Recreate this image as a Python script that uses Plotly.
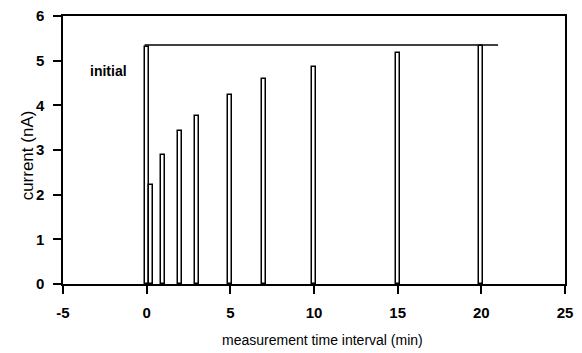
import plotly.graph_objects as go

# data
times = [0, 0.25, 1, 2, 3, 5, 7, 10, 15, 20]
currents = [5.31, 2.21, 2.89, 3.42, 3.77, 4.24, 4.59, 4.86, 5.17, 5.32]
initial_level = 5.35
initial_line_x = [-0.125, 21]
x_ticks = [-5, 0, 5, 10, 15, 20, 25]
x_ticklabels = ["-5", "0", "5", "10", "15", "20", "25"]
y_ticks = [0, 1, 2, 3, 4, 5, 6]
y_ticklabels = ["0", "1", "2", "3", "4", "5", "6"]
x_title = "measurement time interval (min)"
y_title = "current (nA)"

FONT = "Liberation Sans, Arial, sans-serif"

fig = go.Figure()
fig.add_trace(go.Bar(
    x=times, y=currents, width=0.25,
    marker=dict(color="white", line=dict(color="black", width=1.5)),
    showlegend=False,
))
fig.add_trace(go.Scatter(
    x=initial_line_x, y=[initial_level, initial_level], mode="lines",
    line=dict(color="black", width=1.5), showlegend=False,
))
fig.add_annotation(x=-2.3, y=4.77, text="<b>initial</b>", showarrow=False,
                   font=dict(family=FONT, size=14, color="black"))
fig.add_annotation(xref="paper", yref="paper", x=-0.0717, y=0.48, text=y_title,
                   textangle=-90, showarrow=False, xanchor="center", yanchor="middle",
                   font=dict(family=FONT, size=17, color="black"))
fig.add_annotation(xref="paper", yref="paper", x=0.516, y=-0.208, text=x_title,
                   showarrow=False, xanchor="center", yanchor="middle",
                   font=dict(family=FONT, size=14, color="black"))

fig.update_layout(
    width=582, height=353,
    margin=dict(l=63, r=17, t=16, b=69),
    paper_bgcolor="white", plot_bgcolor="white",
    font=dict(family=FONT, color="black"),
    bargap=0,
)
fig.update_xaxes(
    range=[-5, 25], tickvals=x_ticks, ticktext=["<b>%s</b>" % t for t in x_ticklabels],
    ticks="outside", ticklen=8, tickwidth=1.5, ticklabelstandoff=6,
    tickcolor="black", showline=True, linecolor="black", linewidth=1.5, mirror=True,
    showgrid=False, zeroline=False, automargin=False,
    tickfont=dict(family=FONT, size=15),
)
fig.update_yaxes(
    range=[0, 6], tickvals=y_ticks, ticktext=["<b>%s</b>" % t for t in y_ticklabels],
    ticks="outside", ticklen=8, tickwidth=1.5, ticklabelstandoff=6,
    tickcolor="black", showline=True, linecolor="black", linewidth=1.5, mirror=True,
    showgrid=False, zeroline=False, automargin=False,
    tickfont=dict(family=FONT, size=15),
)

fig.write_html("out.html")
